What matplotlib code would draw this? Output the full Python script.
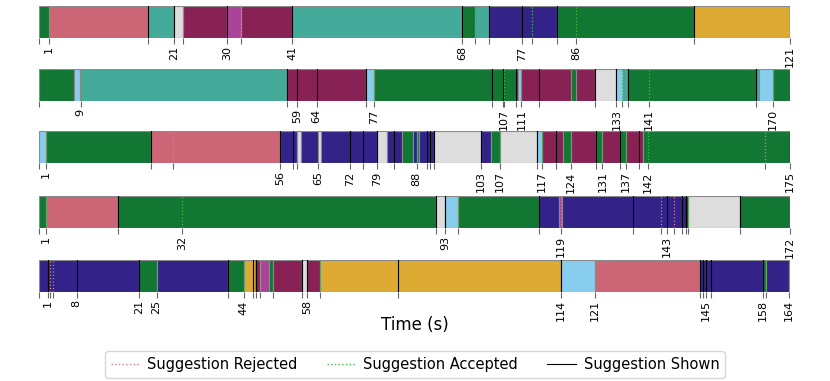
import numpy as np
import matplotlib
matplotlib.use("Agg")
import matplotlib.pyplot as plt
from matplotlib.lines import Line2D

# colour keys used in the segment strings
palette = {
    "G": "#117733", "R": "#CC6677", "T": "#44AA99", "L": "#DDDDDD",
    "W": "#882255", "P": "#AA4499", "I": "#332288", "Y": "#DDAA33",
    "C": "#88CCEE",
}
shown_color = "black"
accepted_color = "#3fbf3f"
rejected_color = "#e07a95"

# ---- row 1 ----
row1_edges = [0, 1.6, 17.5, 21.8, 23.2, 30.3, 32.5, 40.8, 68.2, 70.2, 72.5, 83.4, 105.5, 121]
row1_colors = "GRTLWPWTGTIGY"
row1_shown = [17.5, 21.8, 30.3, 40.8, 68.2, 72.5, 77.9, 83.4, 105.5, 121]
row1_accepted = [1.6, 70.2, 79.5, 86.6]
row1_rejected = [23.2, 32.5]
row1_ticks = [1.6, 21.8, 30.3, 40.8, 68.2, 77.9, 86.6, 121]
row1_labels = ["1", "21", "30", "41", "68", "77", "86", "121"]

# ---- row 2 ----
row2_edges = [0, 8.1, 9.45, 57.2, 75.4, 77.3, 109.9, 110.3, 111.2, 122.6, 123.7, 128.1,
              133.1, 134.5, 135.7, 165.2, 165.9, 169.2, 173.1]
row2_colors = "GCTWCGWCWGWLCTGTCG"
row2_shown = [57.2, 59.5, 64.0, 75.4, 104.3, 107.0, 109.9, 115.3, 128.1, 133.1, 135.7, 165.2]
row2_accepted = [9.6, 77.3, 107.2, 111.2, 134.4, 140.5, 169.2]
row2_rejected = []
row2_ticks = [9.6, 59.5, 64.0, 77.3, 107.2, 111.2, 133.1, 140.5, 169.2]
row2_labels = ["9", "59", "64", "77", "107", "111", "133", "141", "170"]

# ---- row 3 ----
row3_edges = [0, 1.6, 26.0, 56.2, 60.2, 61.0, 65.1, 65.6, 78.8, 81.0, 84.5, 87.1, 88.0, 88.5,
              92.1, 103.0, 105.3, 107.4, 116.0, 117.2, 122.0, 123.9, 129.7, 131.3, 135.4,
              136.8, 140.8, 175]
row3_colors = "CGRILILILIGIGILIGLCWGWGWGWG"
row3_shown = [26.0, 56.2, 59.3, 72.5, 75.6, 78.8, 82.7, 90.4, 91.0, 92.1, 103.0, 116.0,
              120.5, 129.7, 135.4, 139.7, 175]
row3_accepted = [1.6, 88.0, 107.4, 117.2, 123.9, 131.3, 136.8, 141.9]
row3_rejected = [31.2, 60.1, 169.2]
row3_ticks = [1.6, 56.2, 65.1, 72.5, 78.8, 88.0, 103.0, 107.4, 117.2, 123.9, 131.3, 136.8, 141.9, 175]
row3_labels = ["1", "56", "65", "72", "79", "88", "103", "107", "117", "124", "131", "137", "142", "175"]

# ---- row 4 ----
row4_edges = [0, 1.5, 18.2, 90.9, 93.0, 96.0, 114.6, 119.2, 119.7, 148.6, 160.6, 172]
row4_colors = "GRGLCGIPILG"
row4_shown = [18.2, 90.9, 93.0, 114.6, 136.0, 143.8, 147.2, 148.1, 160.6]
row4_accepted = [1.5, 32.8, 96.0, 148.6, 172]
row4_rejected = [119.5, 142.4, 145.5]
row4_ticks = [1.5, 32.8, 93.0, 119.5, 143.8, 172]
row4_labels = ["1", "32", "93", "119", "143", "172"]

# ---- row 5 ----
row5_edges = [0, 21.8, 25.7, 41.4, 44.8, 47.2, 48.3, 50.2, 51.1, 57.6, 58.7, 61.4, 114.1,
              121.6, 144.6, 158.2, 159.0, 164.0, 164.2]
row5_colors = "IGIGYWPGWLWYCRIGIG"
row5_shown = [1.9, 8.2, 21.8, 41.4, 46.7, 47.5, 57.6, 58.7, 78.6, 114.1, 144.6, 145.1,
              145.9, 147.0, 158.2]
row5_accepted = [3.0, 25.7, 44.8, 51.1, 61.4, 121.6, 159.0, 164.0]
row5_rejected = [2.5, 48.3]
row5_ticks = [1.9, 8.2, 21.8, 25.7, 44.8, 58.7, 114.1, 121.6, 145.9, 158.2, 164.0]
row5_labels = ["1", "8", "21", "25", "44", "58", "114", "121", "145", "158", "164"]

rows = [
    (row1_edges, row1_colors, row1_shown, row1_accepted, row1_rejected, row1_ticks, row1_labels),
    (row2_edges, row2_colors, row2_shown, row2_accepted, row2_rejected, row2_ticks, row2_labels),
    (row3_edges, row3_colors, row3_shown, row3_accepted, row3_rejected, row3_ticks, row3_labels),
    (row4_edges, row4_colors, row4_shown, row4_accepted, row4_rejected, row4_ticks, row4_labels),
    (row5_edges, row5_colors, row5_shown, row5_accepted, row5_rejected, row5_ticks, row5_labels),
]

fig = plt.figure(figsize=(8.3, 3.81), dpi=100)
W, H = 830.0, 381.0
bar_tops = [6, 69, 131, 196, 260]
bar_h = 32

for (edges, cols, shown, acc, rej, ticks, labels), top in zip(rows, bar_tops):
    ax = fig.add_axes([39 / W, 1 - (top + bar_h) / H, 751 / W, bar_h / H])
    edges = np.array(edges)
    ax.barh(0.5, np.diff(edges), left=edges[:-1], height=1.0,
            color=[palette[c] for c in cols], edgecolor="#8a8a8a", linewidth=0.8)
    for t in shown:
        ax.axvline(t, color=shown_color, lw=0.8)
    for t in acc:
        ax.axvline(t, color=accepted_color, lw=0.9, ls=":")
    for t in rej:
        ax.axvline(t, color=rejected_color, lw=0.9, ls=":")
    ax.set_xlim(0, edges[-1])
    ax.set_ylim(0, 1)
    ax.set_yticks([])
    for s in ax.spines.values():
        s.set_visible(False)
    ax.set_xticks(ticks)
    ax.set_xticklabels(labels, rotation=90, fontsize=8)
    ax.set_xticks(sorted(set([0] + shown + acc + rej)), minor=True)
    ax.tick_params(axis="x", which="both", length=4, width=0.8, color="#666666", pad=2)

fig.text(0.5, 1 - 325 / H, "Time (s)", ha="center", va="center", fontsize=12)

handles = [
    Line2D([], [], color=rejected_color, ls=":", lw=1),
    Line2D([], [], color=accepted_color, ls=":", lw=1),
    Line2D([], [], color=shown_color, ls="-", lw=0.8),
]
fig.legend(handles, ["Suggestion Rejected", "Suggestion Accepted", "Suggestion Shown"],
           loc="lower center", bbox_to_anchor=(0.5, 0.0), ncol=3, fontsize=10.5,
           handlelength=2.0, handletextpad=0.5, columnspacing=2.0, borderpad=0.4,
           borderaxespad=0.2, frameon=True)

fig.savefig("out.png", dpi=100)
